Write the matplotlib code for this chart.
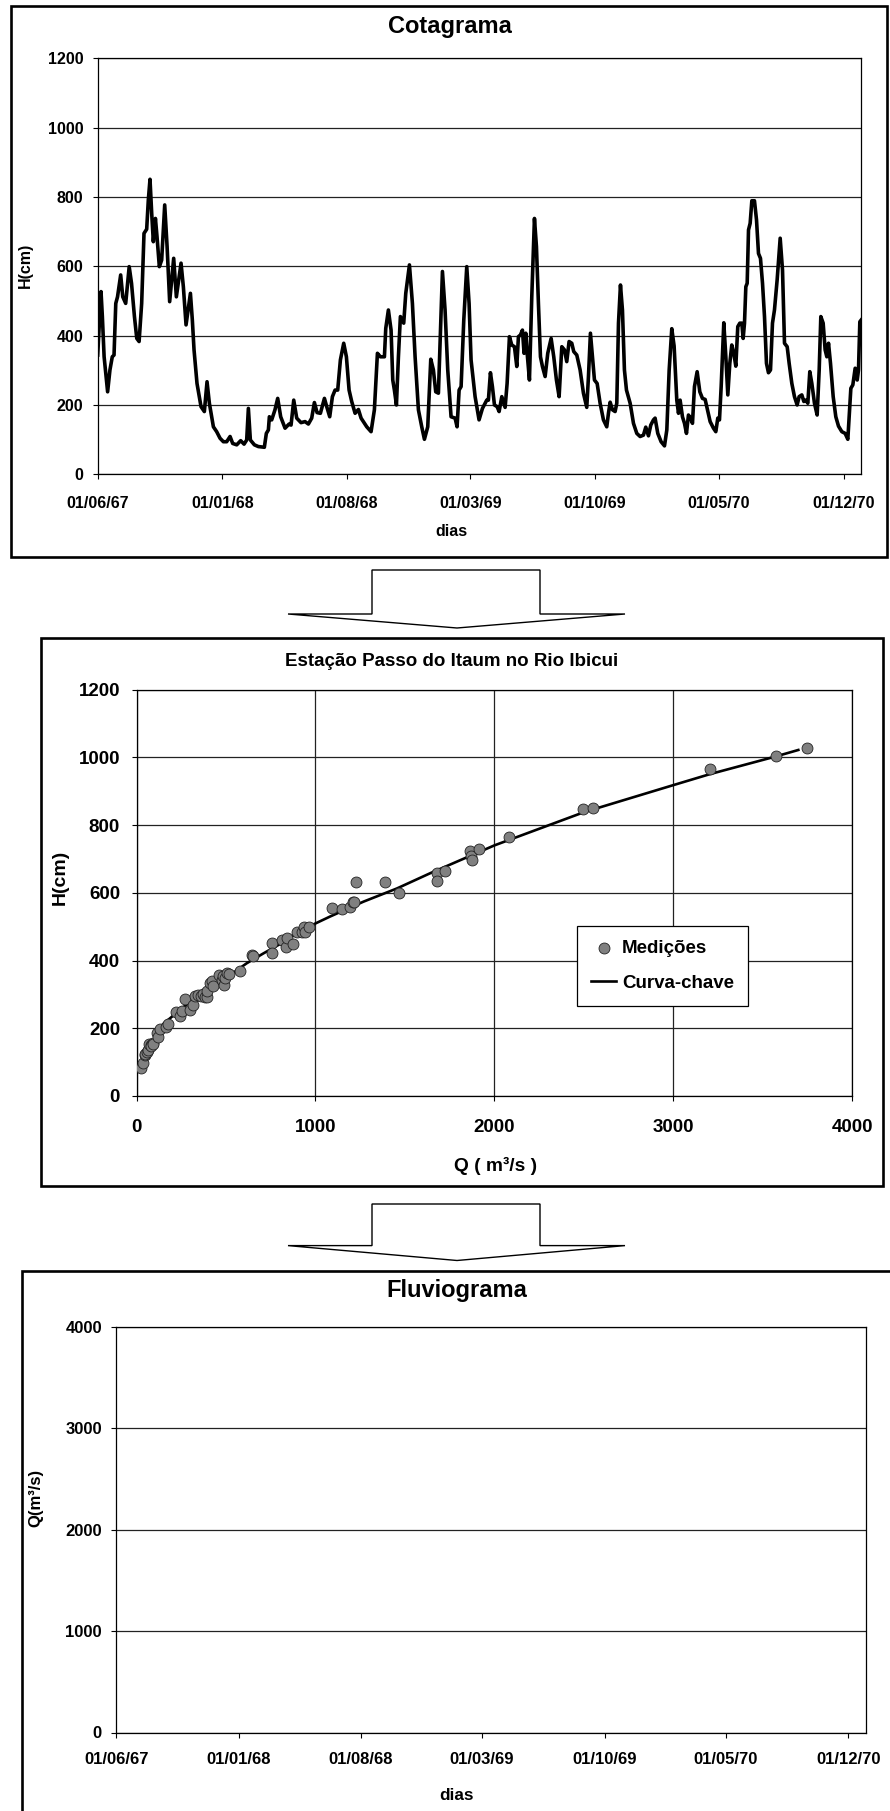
import numpy as np
import pandas as pd
import matplotlib
matplotlib.use('Agg')
import matplotlib.pyplot as plt
from matplotlib.patches import Rectangle, Polygon

# Cotagrama: dias desde 01/06/67 e cota (cm)
cota_dia = [0, 5.7, 8, 11, 17, 21, 25, 28, 31, 34, 39.4, 43, 48, 54, 58, 63, 67, 71,
            75.4, 79.4, 84, 86.8, 89.7, 92.6, 95.4, 99, 101.7, 105.7, 109.7, 114.9, 119,
            123.4, 130.3, 134.9, 142.9, 146.9, 151.5, 159, 162.3, 165.2, 170.3, 177.2,
            182.9, 187.5, 191.5, 198.4, 204, 209.8, 215.5, 221.2, 227, 231.5, 238.4,
            245.2, 251, 255.5, 258.4, 261.8, 268.7, 275.5, 285.8, 289.2, 292.7, 294.4,
            298.4, 304, 308.7, 313.8, 321.3, 328.2, 331.6, 336.2, 341.3, 348.7, 355.6,
            361.3, 367, 371.6, 376.2, 381.9, 388.8, 392.8, 397.9, 402.5, 407.1, 411.6,
            416.2, 421.9, 426.5, 431.1, 435.6, 441.4, 447.1, 451.7, 461.4, 468.8, 474.5,
            479.7, 484.8, 491.7, 494, 498.5, 503.1, 506, 508.8, 512.3, 515.7, 519.1,
            524.8, 528.3, 534.6, 539.7, 544.3, 550, 555.7, 560.3, 566, 571.2, 575.7,
            579.7, 584.3, 587.2, 591.2, 595.7, 600.3, 606, 612.9, 616.3, 619.8, 623.2,
            627.8, 632.9, 636.9, 640.3, 647.2, 654, 659.8, 667.2, 670, 673.5, 676.9,
            680.4, 685, 688.4, 693, 698.7, 702.1, 706.1, 710.1, 714.7, 718.7, 721.5,
            725, 728.4, 731.2, 734.1, 737, 740.4, 744.4, 749, 752.4, 755.8, 759.3,
            762.7, 767.3, 771.8, 777.6, 782.1, 786.7, 791.3, 795.9, 800.4, 804.4,
            808.4, 813, 816.4, 821.6, 827.3, 833, 838.7, 841.6, 845, 848.5, 851.9,
            856.5, 861.6, 867.3, 873, 875.9, 878.8, 882.8, 887.3, 890.2, 893.1, 896.5,
            899.9, 903.3, 906.8, 913.1, 918.8, 924.5, 930.2, 935.9, 939.9, 944.5,
            948.5, 953.1, 955.9, 960.5, 966.2, 972, 976, 980, 984.5, 988.5, 993.1, 996,
            998.8, 1002.8, 1006.3, 1009.7, 1013.1, 1016.6, 1020, 1023.4, 1028, 1032.6,
            1037.1, 1041.7, 1045.7, 1050.3, 1056, 1060, 1063.4, 1066.3, 1069.2, 1073.7,
            1077.2, 1080.6, 1084, 1087.4, 1090.9, 1094.3, 1097.7, 1101.2, 1104.6,
            1106.9, 1109.2, 1111.5, 1113.8, 1116.1, 1118.9, 1121.8, 1126.3, 1129.8,
            1133.2, 1136.6, 1140.1, 1143.5, 1146.9, 1150.3, 1153.8, 1157.2, 1160.6,
            1165.2, 1170.4, 1174.4, 1177.8, 1182.4, 1185.8, 1190.4, 1194.9, 1199.5,
            1202.9, 1207.5, 1211, 1214.4, 1217.8, 1221.2, 1224.7, 1229.2, 1233.8,
            1237.3, 1240.1, 1244.1, 1247.5, 1250.4, 1253.3, 1256.7, 1261.3, 1265.8,
            1270.4, 1276.1, 1281.8, 1286.4, 1289.3, 1291.6, 1295, 1299, 1302.5, 1304.7,
            1307, 1309.3]
cota_h = [344, 527, 455, 339, 238, 301, 339, 344, 493, 512, 575, 512, 493, 599, 551,
          455, 392, 383, 493, 695, 707, 791, 851, 753, 671, 738, 686, 599, 618, 777,
          657, 498, 623, 512, 609, 541, 431, 522, 445, 359, 262, 195, 181, 267, 205,
          137, 123, 104, 94, 94, 109, 89, 85, 97, 87, 99, 190, 99, 85, 80, 78, 118,
          128, 166, 157, 186, 219, 166, 133, 145, 142, 214, 162, 149, 152, 145, 162,
          207, 178, 176, 219, 195, 166, 224, 243, 243, 330, 378, 339, 243, 210, 176,
          187, 162, 137, 123, 186, 349, 339, 339, 421, 474, 416, 272, 243, 200, 339,
          455, 436, 522, 604, 493, 339, 186, 137, 101, 137, 332, 301, 238, 234, 378,
          585, 474, 301, 166, 162, 137, 243, 253, 445, 599, 493, 330, 224, 157, 190,
          214, 214, 293, 253, 200, 195, 181, 224, 193, 262, 397, 373, 368, 311, 397,
          402, 416, 349, 407, 339, 272, 512, 738, 657, 493, 339, 311, 282, 349, 392,
          339, 272, 224, 368, 359, 325, 383, 378, 354, 344, 301, 234, 193, 282, 407,
          339, 272, 262, 205, 157, 137, 176, 208, 186, 181, 205, 436, 546, 474, 301,
          243, 205, 147, 118, 109, 113, 136, 111, 142, 157, 162, 118, 94, 82, 128,
          300, 420, 370, 214, 176, 214, 166, 147, 118, 171, 162, 147, 253, 296, 238,
          219, 216, 186, 152, 133, 123, 162, 157, 253, 437, 339, 229, 320, 373, 349,
          312, 426, 436, 436, 392, 436, 541, 551, 705, 724, 789, 789, 734, 637, 623,
          551, 455, 320, 293, 301, 436, 474, 561, 681, 589, 378, 368, 320, 262, 224,
          200, 224, 229, 210, 214, 205, 296, 262, 205, 171, 301, 455, 436, 359, 339,
          378, 320, 224, 166, 139, 123, 118, 101, 186, 248, 258, 306, 272, 301, 440,
          445]

# Medicoes de vazao (m3/s) e cota (cm)
med_q = [23, 34, 46, 48, 61, 66, 72, 79, 81, 90, 94, 116, 122, 131, 165, 178, 221, 243,
         253, 271, 299, 318, 327, 346, 359, 370, 383, 396, 396, 411, 420, 430, 463, 476,
         485, 489, 495, 504, 519, 579, 644, 653, 756, 756, 812, 836, 844, 877, 896, 924,
         934, 941, 965, 1092, 1150, 1194, 1209, 1216, 1226, 1390, 1469, 1679, 1679,
         1722, 1862, 1869, 1875, 1916, 2082, 2497, 2550, 3208, 3575, 3751]
med_h = [82, 98, 121, 124, 131, 136, 154, 151, 148, 156, 154, 185, 175, 197, 205, 213,
         249, 236, 252, 286, 254, 269, 295, 298, 295, 301, 293, 291, 311, 333, 341, 325,
         357, 343, 353, 328, 348, 362, 360, 370, 417, 414, 453, 421, 461, 441, 466, 449,
         485, 485, 498, 483, 498, 554, 551, 559, 572, 574, 632, 631, 600, 658, 635, 665,
         725, 710, 697, 729, 766, 847, 850, 965, 1004, 1029]

# Curva-chave
chave_q = [20, 38, 75, 150, 243, 337, 430, 523, 616, 709, 803, 896, 994, 1082, 1269,
           1456, 1642, 2000, 2500, 3000, 3208, 3575, 3700]
chave_h = [87, 110, 146, 213, 254, 295, 328, 357, 392, 421, 449, 480, 508, 530, 574,
           613, 658, 740, 838, 918, 951, 1003, 1022]

datas_ticks = ['1967-06-01', '1968-01-01', '1968-08-01', '1969-03-01', '1969-10-01',
               '1970-05-01', '1970-12-01']
rotulos_datas = ['01/06/67', '01/01/68', '01/08/68', '01/03/69', '01/10/69',
                 '01/05/70', '01/12/70']

plt.rcParams['font.family'] = ['Liberation Sans', 'DejaVu Sans']
plt.rcParams['font.weight'] = 'bold'

W, H = 890, 1811
fig = plt.figure(figsize=(W / 100, H / 100), dpi=100)


def caixa(l, t, r, b):
    return [l / W, 1 - b / H, (r - l) / W, (b - t) / H]


def fx(x):
    return x / W


def fy(y):
    return 1 - y / H


inicio = pd.Timestamp('1967-06-01')
fim = pd.Timestamp('1970-12-31')
datas = inicio + pd.to_timedelta(cota_dia, unit='D')
ticks = pd.to_datetime(datas_ticks)

# molduras
for l, t, r, b in [(10.5, 5.5, 886.5, 557), (41, 638, 883, 1186), (21.6, 1270.5, 900, 1830)]:
    fig.add_artist(Rectangle((fx(l), fy(b)), (r - l) / W, (b - t) / H,
                             transform=fig.transFigure, fill=False, lw=1.9, ec='black'))

# setas
for top, base, tip in [(570, 614, 628), (1204, 1245.6, 1260.5)]:
    pts = [(372, top), (540, top), (540, base), (625, base), (457, tip), (288, base), (372, base)]
    fig.add_artist(Polygon([(fx(x), fy(y)) for x, y in pts], closed=True,
                           transform=fig.transFigure, fc='white', ec='black', lw=1.0))

# Cotagrama
ax1 = fig.add_axes(caixa(97.7, 58.3, 861, 474.3))
ax1.plot(datas, cota_h, color='black', lw=2.6, solid_joinstyle='round')
ax1.set_xlim(inicio, fim)
ax1.set_ylim(0, 1200)
ax1.set_yticks(range(0, 1201, 200))
ax1.set_xticks(ticks)
ax1.set_xticklabels(rotulos_datas)
ax1.yaxis.grid(True, color='#222222', lw=0.9)
ax1.set_axisbelow(True)
ax1.tick_params(axis='x', direction='out', length=3.8, width=0.8, labelsize=11.5, pad=12)
ax1.tick_params(axis='y', direction='out', length=3.8, width=0.8, labelsize=11.5, pad=6.5)
fig.text(fx(450), fy(27), 'Cotagrama', ha='center', va='center', fontsize=17, fontweight='bold')
fig.text(fx(25), fy(265), 'H(cm)', ha='center', va='center', rotation=90, fontsize=11.5,
         fontweight='bold')
fig.text(fx(451), fy(531), 'dias', ha='center', va='center', fontsize=11.5, fontweight='bold')

# Curva-chave
ax2 = fig.add_axes(caixa(136.5, 689.7, 852, 1096))
ax2.plot(chave_q, chave_h, color='black', lw=1.9, zorder=2, label='Curva-chave')
ax2.scatter(med_q, med_h, s=62, c='#808080', edgecolors='#222222', linewidths=0.6,
            zorder=3, label='Medições')
ax2.set_xlim(0, 4000)
ax2.set_ylim(0, 1200)
ax2.set_xticks(range(0, 4001, 1000))
ax2.set_yticks(range(0, 1201, 200))
ax2.grid(True, color='#222222', lw=0.9)
ax2.set_axisbelow(True)
ax2.tick_params(axis='x', direction='out', length=3.8, width=0.8, labelsize=13.5, pad=12.5)
ax2.tick_params(axis='y', direction='out', length=3.8, width=0.8, labelsize=13.5, pad=8)
handles, labels = ax2.get_legend_handles_labels()
leg = ax2.legend(handles[::-1], labels[::-1], loc='upper left',
                 bbox_to_anchor=(fx(577), fy(925.7)), bbox_transform=fig.transFigure,
                 borderaxespad=0, fancybox=False, framealpha=1, edgecolor='black',
                 prop={'size': 13.5, 'weight': 'bold'}, handlelength=1.35,
                 handletextpad=0.3, borderpad=0.75, labelspacing=0.95, markerscale=1.0)
leg.get_frame().set_linewidth(0.9)
fig.text(fx(452), fy(662), 'Estação Passo do Itaum no Rio Ibicui', ha='center', va='center',
         fontsize=13.5, fontweight='bold')
fig.text(fx(60), fy(877), 'H(cm)', ha='center', va='center', rotation=90, fontsize=14,
         fontweight='bold')
fig.text(fx(496), fy(1166), 'Q ( m³/s )', ha='center', va='center', fontsize=13.8,
         fontweight='bold')

# Fluviograma
ax3 = fig.add_axes(caixa(116.3, 1327, 865.5, 1732.5))
ax3.set_xlim(inicio, fim)
ax3.set_ylim(0, 4000)
ax3.set_yticks(range(0, 4001, 1000))
ax3.set_xticks(ticks)
ax3.set_xticklabels(rotulos_datas)
ax3.yaxis.grid(True, color='#222222', lw=0.9)
ax3.set_axisbelow(True)
ax3.tick_params(axis='x', direction='out', length=3.8, width=0.8, labelsize=12, pad=10)
ax3.tick_params(axis='y', direction='out', length=3.8, width=0.8, labelsize=12, pad=6.5)
fig.text(fx(457), fy(1291), 'Fluviograma', ha='center', va='center', fontsize=17,
         fontweight='bold')
fig.text(fx(35.5), fy(1498), 'Q(m³/s)', ha='center', va='center', rotation=90, fontsize=12,
         fontweight='bold')
fig.text(fx(457), fy(1796), 'dias', ha='center', va='center', fontsize=12.3, fontweight='bold')

for ax in (ax1, ax2, ax3):
    for s in ax.spines.values():
        s.set_linewidth(0.9)

fig.savefig('out.png', dpi=100)
